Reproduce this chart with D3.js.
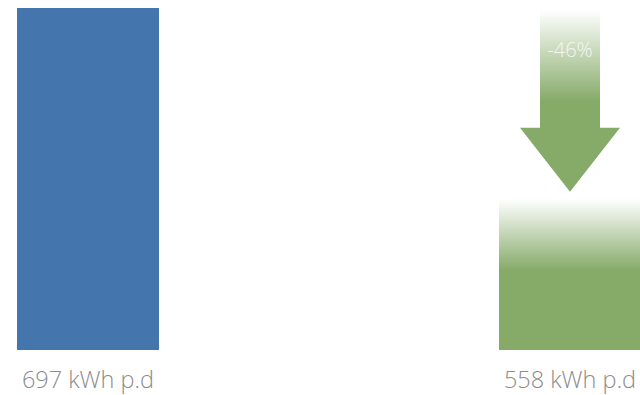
<!DOCTYPE html>
<html>
<head>
<meta charset="utf-8">
<script src="https://cdn.jsdelivr.net/npm/d3@7"></script>
<style>
  body { margin: 0; background: #fff; }
  svg { display: block; }
</style>
</head>
<body>
<svg width="640" height="395"></svg>
<script>
// data
const categories = ["before", "after"];
const labels = ["697 kWh p.d", "558 kWh p.d"];
const values = [697, 558];
// visible bar height of the second bar (it is drawn shorter than its label says)
const barValues = [697, 308];
const change = "-46%";

const colors = ["#4475ad", "#86ab69"];

const svg = d3.select("svg");

const x = d3.scaleBand()
    .domain(categories)
    .range([17, 641])
    .paddingInner(0.7054)
    .paddingOuter(0);

const y = d3.scaleLinear()
    .domain([0, 697])
    .range([350, 8]);

// gradients, fade to white at the top
const defs = svg.append("defs");

const barGrad = defs.append("linearGradient")
    .attr("id", "barFade")
    .attr("x1", 0).attr("y1", 0).attr("x2", 0).attr("y2", 1);
barGrad.append("stop").attr("offset", "0%").attr("stop-color", colors[1]).attr("stop-opacity", 0);
barGrad.append("stop").attr("offset", "47%").attr("stop-color", colors[1]).attr("stop-opacity", 1);
barGrad.append("stop").attr("offset", "100%").attr("stop-color", colors[1]).attr("stop-opacity", 1);

const arrowGrad = defs.append("linearGradient")
    .attr("id", "arrowFade")
    .attr("x1", 0).attr("y1", 0).attr("x2", 0).attr("y2", 1);
arrowGrad.append("stop").attr("offset", "0%").attr("stop-color", colors[1]).attr("stop-opacity", 0);
arrowGrad.append("stop").attr("offset", "50%").attr("stop-color", colors[1]).attr("stop-opacity", 1);
arrowGrad.append("stop").attr("offset", "100%").attr("stop-color", colors[1]).attr("stop-opacity", 1);

// bars
svg.selectAll(".bar")
    .data(categories)
    .enter()
    .append("rect")
    .attr("class", "bar")
    .attr("x", d => x(d))
    .attr("y", (d, i) => y(barValues[i]))
    .attr("width", x.bandwidth())
    .attr("height", (d, i) => y(0) - y(barValues[i]))
    .attr("fill", (d, i) => i === 0 ? colors[0] : "url(#barFade)");

// labels under the bars
svg.selectAll(".label")
    .data(categories)
    .enter()
    .append("text")
    .attr("class", "label")
    .attr("x", d => x(d) + x.bandwidth() / 2)
    .attr("y", 388)
    .attr("text-anchor", "middle")
    .style("font-family", "'Open Sans', sans-serif")
    .style("font-weight", 300)
    .style("font-size", "23.5px")
    .attr("fill", "#8c8c8c")
    .text((d, i) => labels[i]);

// down arrow above the second bar
const cx = x(categories[1]) + x.bandwidth() / 2;
const tipY = y(barValues[1]) - 7;
const arrowTop = 10;
const headTop = tipY - 64;
const arrow = d3.path();
arrow.moveTo(cx - 30, arrowTop);
arrow.lineTo(cx + 30, arrowTop);
arrow.lineTo(cx + 30, headTop);
arrow.lineTo(cx + 50, headTop);
arrow.lineTo(cx, tipY);
arrow.lineTo(cx - 50, headTop);
arrow.lineTo(cx - 30, headTop);
arrow.closePath();

svg.append("path")
    .attr("d", arrow.toString())
    .attr("fill", "url(#arrowFade)");

svg.append("text")
    .attr("x", cx)
    .attr("y", 57)
    .attr("text-anchor", "middle")
    .style("font-family", "'Open Sans', sans-serif")
    .style("font-weight", 300)
    .style("font-size", "20px")
    .attr("fill", "#ffffff")
    .attr("fill-opacity", 0.8)
    .text(change);
</script>
</body>
</html>
